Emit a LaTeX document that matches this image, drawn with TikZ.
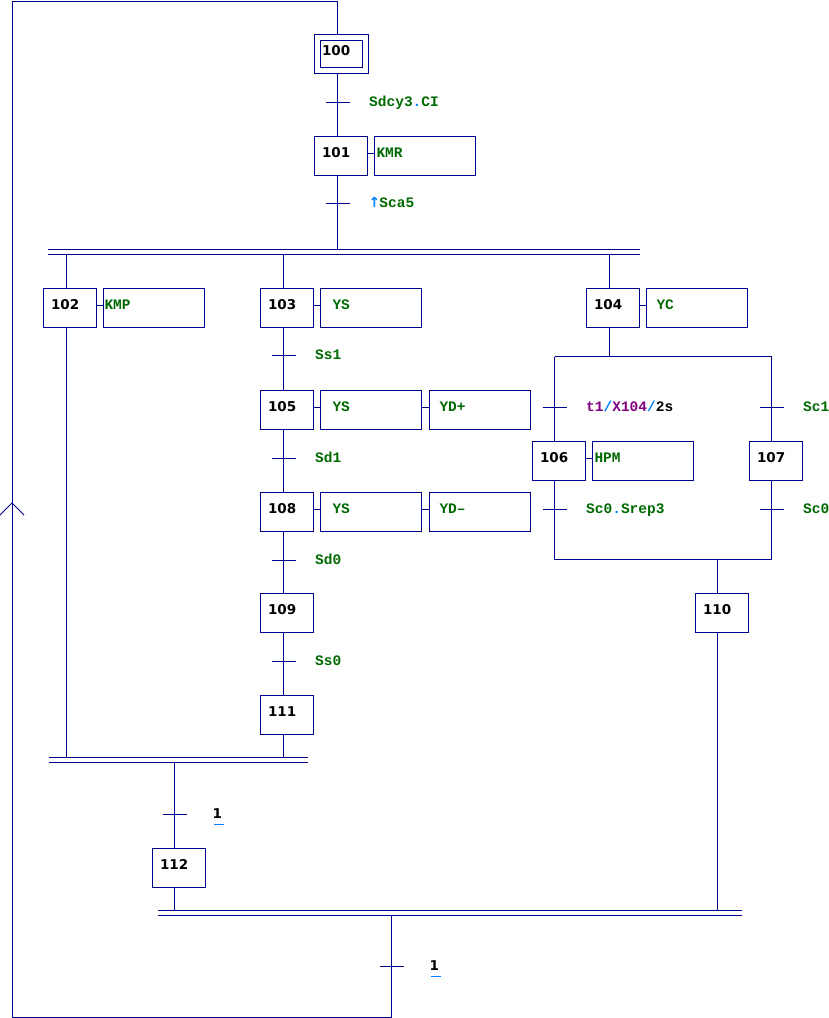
\documentclass[tikz,border=0pt]{standalone}
\usepackage{fontspec}
\usetikzlibrary{positioning}
\newfontfamily\numfont{DejaVu Sans}
\newfontfamily\condfont{Liberation Mono}
\newfontfamily\arrowfont{DejaVu Sans}
\definecolor{grline}{RGB}{0,0,140}
\definecolor{grtext}{RGB}{0,105,0}
\definecolor{dotblue}{RGB}{0,128,255}
\definecolor{tpurple}{RGB}{128,0,128}
\tikzset{
	link/.style={draw=grline, line width=1pt},
	stepbox/.style={link, rectangle, minimum width=53pt, minimum height=39pt, inner xsep=7.5pt, inner ysep=0pt,
		text width=38pt, align=left, text height=9.5pt, text depth=6pt, font=\numfont\bfseries\fontsize{13.5}{15}\selectfont},
	initstep/.style={stepbox, double=white, double distance=5pt, minimum width=48pt, minimum height=33pt,
		inner xsep=4.5pt, text width=39pt, outer sep=3.5pt},
	actbox/.style={link, rectangle, minimum width=101pt, minimum height=39pt, inner xsep=#1, inner ysep=0pt,
		text width=101pt-2*#1, align=left, text height=8.3pt, text depth=6pt, text=grtext,
		font=\condfont\bfseries\fontsize{14.5}{16}\selectfont},
	trans/.style={minimum width=24pt, minimum height=0pt, inner sep=0pt, outer sep=0pt},
	cond/.style={inner sep=0pt, text height=8.3pt, text depth=0pt, text=grtext, font=\condfont\bfseries\fontsize{14.5}{16}\selectfont},
	one/.style={inner sep=0pt, text height=9.5pt, text depth=0pt, font=\numfont\bfseries\fontsize{13.5}{15}\selectfont},
	andbar/.style={link, double=white, double distance=4pt},
}
\begin{document}
\begin{tikzpicture}[x=1pt,y=-1pt]
	\useasboundingbox (0,0) rectangle (829,1018);

	% steps
	\node[initstep] (s100) at (341.5,53.5) {100};
	\node[stepbox] (s101) at (341,156) {101};
	\node[stepbox] (s102) at (70,308) {102};
	\node[stepbox] (s103) at (287,308) {103};
	\node[stepbox] (s104) at (613,308) {104};
	\node[stepbox] (s105) at (287,410) {105};
	\node[stepbox] (s106) at (559,461) {106};
	\node[stepbox] (s107) at (776,461) {107};
	\node[stepbox] (s108) at (287,512) {108};
	\node[stepbox] (s109) at (287,613) {109};
	\node[stepbox] (s110) at (722,613) {110};
	\node[stepbox] (s111) at (287,715) {111};
	\node[stepbox] (s112) at (179,868) {112};

	% actions
	\node[actbox=2pt] (a101) at (425,156) {KMR};
	\node[actbox=1pt] (a102) at (154,308) {KMP};
	\node[actbox=12pt] (a103) at (371,308) {YS};
	\node[actbox=10pt] (a104) at (697,308) {YC};
	\node[actbox=12pt] (a105) at (371,410) {YS};
	\node[actbox=10pt] (a105b) at (480,410) {YD+};
	\node[actbox=2pt] (a106) at (643,461) {HPM};
	\node[actbox=12pt] (a108) at (371,512) {YS};
	\node[actbox=10pt] (a108b) at (480,512) {YD–};

	% transitions
	\node[trans] (t1) at (337.5,102) {};
	\node[trans] (t2) at (337.5,203) {};
	\node[trans] (t3) at (283.5,355) {};
	\node[trans] (t4) at (283.5,458) {};
	\node[trans] (t5) at (283.5,560) {};
	\node[trans] (t6) at (283.5,661) {};
	\node[trans] (t7) at (554.5,407) {};
	\node[trans] (t8) at (771.5,407) {};
	\node[trans] (t9) at (554.5,509) {};
	\node[trans] (t10) at (771.5,509) {};
	\node[trans] (t11) at (174.5,814) {};
	\node[trans] (t12) at (391.5,966) {};
	\foreach \i in {1,...,12}
		\draw[link] (t\i.west) -- (t\i.east);

	% receptivities
	\node[cond, right=19.5pt of t1] (c1) {Sdcy3{\color{dotblue}.}CI};
	\node[cond, right=19pt of t2] (c2) {{\arrowfont\bfseries\fontsize{14}{16}\selectfont\color{dotblue}↑}\kern-1pt Sca5};
	\node[cond, right=19.5pt of t3] (c3) {Ss1};
	\node[cond, right=19.5pt of t4] (c4) {Sd1};
	\node[cond, right=19.5pt of t5] (c5) {Sd0};
	\node[cond, right=19.5pt of t6] (c6) {Ss0};
	\node[cond, right=19.5pt of t7] (c7) {{\color{tpurple}t1}{\color{dotblue}/}{\color{tpurple}X104}{\color{dotblue}/}{\color{black}2s}};
	\node[cond, right=19.5pt of t8] (c8) {Sc1};
	\node[cond, right=19.5pt of t9] (c9) {Sc0{\color{dotblue}.}Srep3};
	\node[cond, right=19.5pt of t10] (c10) {Sc0};
	\node[one, right=26pt of t11] (c11) {\rlap{\kern1.5pt\color{dotblue}\rule[-6pt]{10pt}{1pt}}1};
	\node[one, right=26pt of t12] (c12) {\rlap{\kern1.5pt\color{dotblue}\rule[-6pt]{10pt}{1pt}}1};

	% axes and bars
	\coordinate (ax102) at (66.5,0);
	\coordinate (ax104) at (609.5,0);
	\coordinate (ax110) at (717.5,0);
	\coordinate (dv1) at (48,251.8);   \coordinate (dv1e) at (640,251.8);
	\coordinate (or1) at (554.5,356.5); \coordinate (or1e) at (771.5,356.5);
	\coordinate (or2) at (554.5,559.5); \coordinate (or2e) at (771.5,559.5);
	\coordinate (dv2) at (49,760.3);   \coordinate (dv2e) at (308,760.3);
	\coordinate (dv3) at (158,912.8);  \coordinate (dv3e) at (742,912.8);
	\coordinate (lb) at (12,1017);
	\coordinate (lt) at (12,1);
	\coordinate (up) at (12,503);

	% links
	\draw[link] (t1 |- s100.south) -- (t1) -- (t1 |- s101.north);
	\draw[link] (t1 |- s101.south) -- (t2) -- (t2 |- dv1);
	\draw[link] (ax102 |- dv1) -- (ax102 |- s102.north);
	\draw[link] (ax102 |- s102.south) -- (ax102 |- dv2);
	\draw[link] (t3 |- dv1) -- (t3 |- s103.north);
	\draw[link] (t3 |- s103.south) -- (t3) -- (t3 |- s105.north);
	\draw[link] (t4 |- s105.south) -- (t4) -- (t4 |- s108.north);
	\draw[link] (t5 |- s108.south) -- (t5) -- (t5 |- s109.north);
	\draw[link] (t6 |- s109.south) -- (t6) -- (t6 |- s111.north);
	\draw[link] (t6 |- s111.south) -- (t6 |- dv2);
	\draw[link] (ax104 |- dv1) -- (ax104 |- s104.north);
	\draw[link] (ax104 |- s104.south) -- (ax104 |- or1);
	\draw[link] (or1) -- (or1e);
	\draw[link] (t7 |- or1) -- (t7) -- (t7 |- s106.north);
	\draw[link] (t7 |- s106.south) -- (t9) -- (t9 |- or2);
	\draw[link] (t8 |- or1) -- (t8) -- (t8 |- s107.north);
	\draw[link] (t8 |- s107.south) -- (t10) -- (t10 |- or2);
	\draw[link] (or2) -- (or2e);
	\draw[link] (ax110 |- or2) -- (ax110 |- s110.north);
	\draw[link] (ax110 |- s110.south) -- (ax110 |- dv3);
	\draw[link] (t11 |- dv2) -- (t11) -- (t11 |- s112.north);
	\draw[link] (t11 |- s112.south) -- (t11 |- dv3);
	\draw[link] (t12 |- dv3) -- (t12) |- (lb) -- (lt) -| (t1 |- s100.north);
	\draw[link] ([shift={(-12,12)}]up) -- (up) -- ([shift={(12,12)}]up);

	% step to action
	\foreach \s/\a in {s101/a101, s102/a102, s103/a103, s104/a104, s105/a105, a105/a105b, s106/a106, s108/a108, a108/a108b}
		\draw[link] ([yshift=2.5pt]\s.east) -- ([yshift=2.5pt]\a.west);

	% double bars
	\draw[andbar] (dv1) -- (dv1e);
	\draw[andbar] (dv2) -- (dv2e);
	\draw[andbar] (dv3) -- (dv3e);
\end{tikzpicture}
\end{document}
